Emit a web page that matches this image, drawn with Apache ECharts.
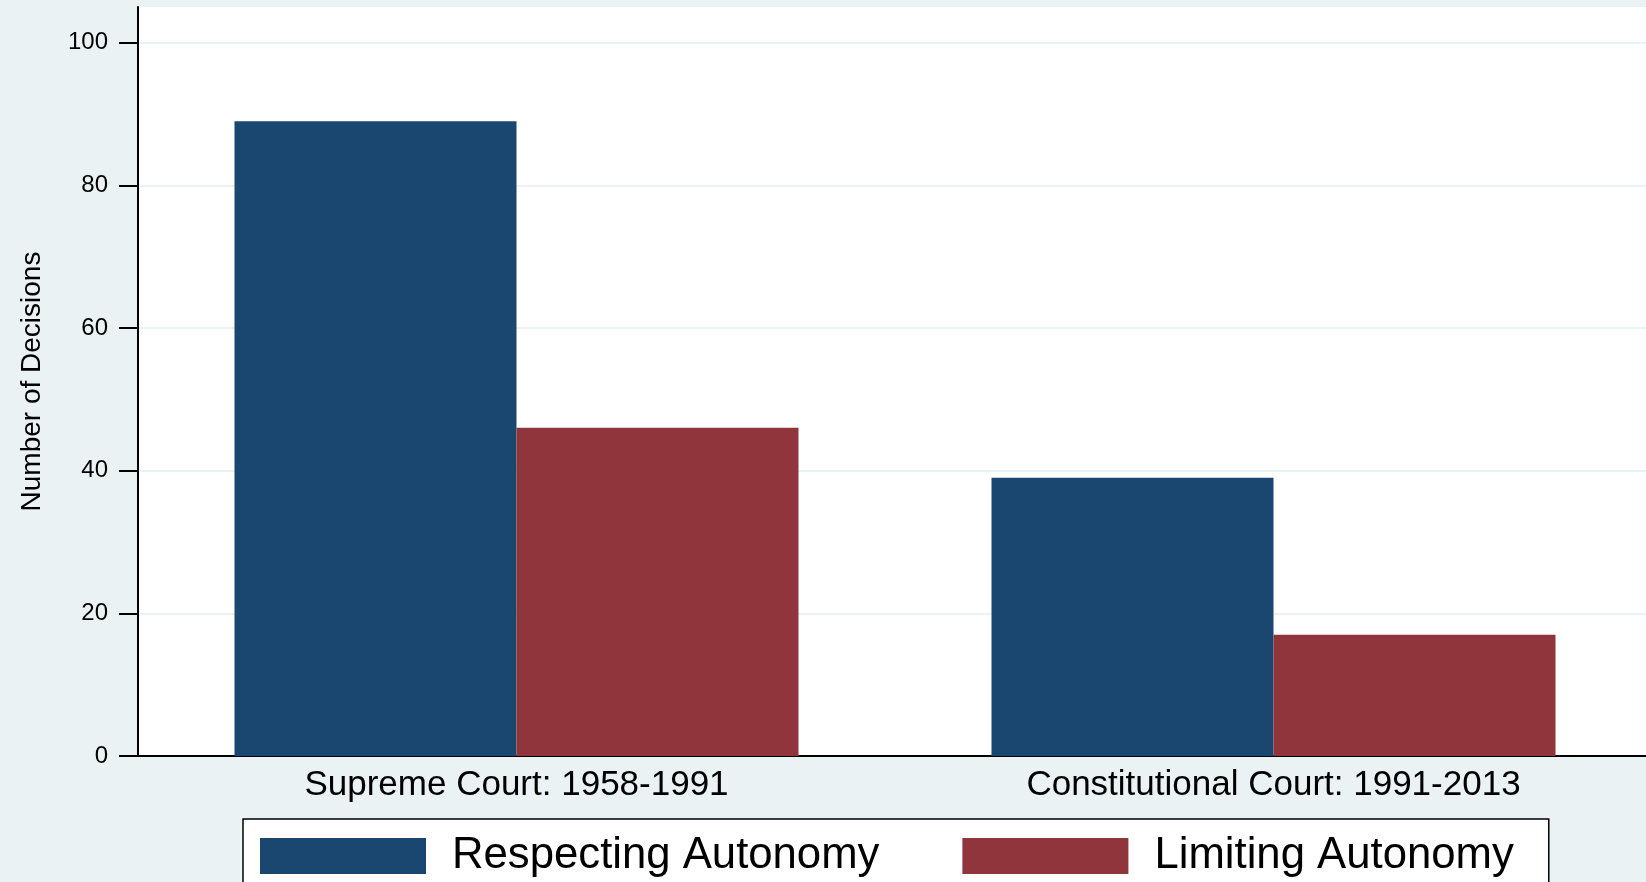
<!DOCTYPE html>
<html>
<head>
<meta charset="utf-8">
<script src="https://cdn.jsdelivr.net/npm/echarts@6/dist/echarts.min.js"></script>
<style>
  html, body { margin: 0; padding: 0; background: #eaf2f3; }
  #chart { width: 1646px; height: 882px; }
</style>
</head>
<body>
<div id="chart"></div>
<script>
// data
var categories = ['Supreme Court: 1958-1991', 'Constitutional Court: 1991-2013'];
var respecting = [89, 39];
var limiting = [46, 17];
var yTicks = [0, 20, 40, 60, 80, 100];

var chart = echarts.init(document.getElementById('chart'));

var option = {
  backgroundColor: '#eaf2f3',
  animation: false,
  grid: {
    left: 138,
    right: -6,
    top: 7,
    bottom: 126,
    outerBoundsMode: 'none',
    show: true,
    backgroundColor: '#ffffff',
    borderWidth: 0
  },
  legend: {
    data: ['Respecting Autonomy', 'Limiting Autonomy'],
    left: 243,
    top: 819,
    orient: 'horizontal',
    padding: [15, 35, 30, 17],
    backgroundColor: '#ffffff',
    borderColor: '#000000',
    borderWidth: 1.5,
    borderRadius: 0,
    itemWidth: 166,
    itemHeight: 36,
    itemGap: 83,
    icon: 'rect',
    textStyle: {
      fontFamily: 'Liberation Sans',
      fontSize: 43.7,
      color: '#000',
      padding: [0, 0, 0, 21]
    }
  },
  xAxis: {
    type: 'category',
    data: categories,
    axisLine: { lineStyle: { color: '#000', width: 2 } },
    axisTick: { show: false },
    axisLabel: {
      fontFamily: 'Liberation Sans',
      fontSize: 35,
      color: '#000',
      margin: 12
    }
  },
  yAxis: {
    type: 'value',
    min: 0,
    max: 105,
    interval: 20,
    name: 'Number of Decisions',
    nameLocation: 'middle',
    nameGap: 92,
    nameTextStyle: {
      fontFamily: 'Liberation Sans',
      fontSize: 28,
      color: '#000'
    },
    axisLine: { show: true, lineStyle: { color: '#000', width: 2 } },
    axisTick: {
      show: true,
      length: 19,
      customValues: yTicks,
      lineStyle: { color: '#000', width: 2 }
    },
    axisLabel: {
      customValues: yTicks,
      fontFamily: 'Liberation Sans',
      fontSize: 24,
      color: '#000',
      margin: 30
    },
    splitLine: { show: true, lineStyle: { color: '#eaf2f3', width: 2 } }
  },
  series: [
    {
      name: 'Respecting Autonomy',
      type: 'bar',
      data: respecting,
      barWidth: 282,
      barGap: '0%',
      itemStyle: { color: '#1a476f' }
    },
    {
      name: 'Limiting Autonomy',
      type: 'bar',
      data: limiting,
      barWidth: 282,
      itemStyle: { color: '#90353b' }
    }
  ]
};

chart.setOption(option);
</script>
</body>
</html>
